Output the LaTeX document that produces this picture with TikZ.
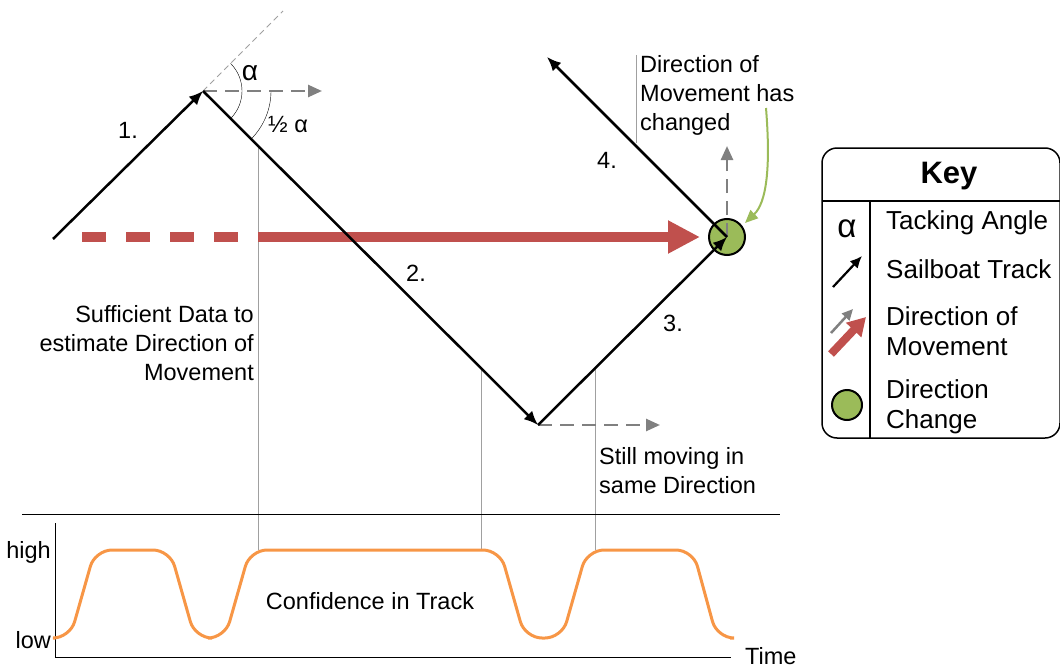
\documentclass[tikz,border=0pt]{standalone}
\usepackage{fontspec}
\setmainfont{Liberation Sans}
\usetikzlibrary{arrows.meta,positioning,calc}
\definecolor{moveRed}{HTML}{C0504D}
\definecolor{changeGreen}{HTML}{9BBB59}
\definecolor{confOrange}{HTML}{F79646}
\definecolor{moveGray}{HTML}{808080}
\definecolor{guideGray}{HTML}{A0A0A0}
\tikzset{
  txt/.style={font=\fontsize{23.5}{29}\selectfont, inner sep=0pt},
  keytxt/.style={font=\fontsize{26}{30}\selectfont, inner sep=0pt, anchor=west, align=left},
  track/.style={-{Latex[length=14pt,width=12pt]}, line width=2.5pt},
  movedash/.style={-{Triangle[length=14pt,width=12pt]}, moveGray, line width=2.5pt, dash pattern=on 14pt off 8pt},
  guide/.style={guideGray, line width=1pt},
  movebar/.style={moveRed, line width=10.5pt},
  changedot/.style={draw, circle, fill=changeGreen, line width=2pt, minimum size=36pt, inner sep=0pt},
}

\begin{document}
\begin{tikzpicture}[x=1pt, y=-1pt]
  \useasboundingbox (0,0) rectangle (1060,669);

  % track corners
  \coordinate (start) at (53,239);
  \coordinate (apex) at (203,91);
  \coordinate (turn) at (538,425);
  \coordinate (end4) at (547,57);
  \coordinate (wind) at (283,11);

  % where the track meets the guides
  \coordinate (g1) at (258,146);
  \coordinate (g2) at (481,369);
  \coordinate (g3) at (595,368);
  \coordinate (h1) at (258,550);
  \coordinate (h2) at (481,550);
  \coordinate (h3) at (595,550);

  \draw[guide] (g1) -- (h1);
  \draw[guide] (g2) -- (h2);
  \draw[guide] (g3) -- (h3);
  \draw[guide] (636,55) -- (636,143);

  % direction of movement
  \coordinate (dashA) at (82,237);
  \coordinate (dashB) at (240,237);
  \coordinate (barA) at (258,237);
  \coordinate (barB) at (700,237);
  \draw[movebar, dash pattern=on 24pt off 20pt] (dashA) -- (dashB);
  \draw[movebar, -{Triangle[length=32pt,width=31pt]}] (barA) -- (barB);

  \node[changedot] (chg) at (727,237) {};

  % tacking angle
  \draw[guideGray, line width=0.8pt, dash pattern=on 6pt off 4pt] (apex) -- (wind);
  \draw (apex) ++(45:39pt) arc[start angle=45, end angle=-45, radius=39pt];
  \draw (apex) ++(0:68pt) arc[start angle=0, end angle=-45, radius=68pt];
  \node[txt, font=\fontsize{28}{30}\selectfont] (alpha) at (250,73) {α};
  \node[txt] (half) at (288,125) {½ α};

  \coordinate (apexR) at (322,91);
  \coordinate (turnR) at (660,425);
  \coordinate (chgUp) at (727,146);
  \draw[movedash] (apex) -- (apexR);
  \draw[movedash] (turn) -- (turnR);
  \draw[movedash] (chg.center) -- (chgUp);

  % sailboat track
  \draw[track] (start) -- (apex);
  \draw[track] (apex) -- (turn);
  \draw[track] (turn) -- (chg.center);
  \draw[track] (chg.center) -- (end4);

  \node[txt] (n1) at (128,130) {1.};
  \node[txt] (n2) at (416,273) {2.};
  \node[txt] (n3) at (673,323) {3.};
  \node[txt] (n4) at (607,160) {4.};

  \node[txt, anchor=east, align=right] (suff) at (254,343) {Sufficient Data to\\estimate Direction of\\Movement};
  \node[txt, anchor=west, align=left] (changed) at (640,95) {Direction of\\Movement has\\changed};
  \node[txt, anchor=west, align=left] (still) at (599,471) {Still moving in\\same Direction};

  \coordinate (gStart) at (766,108);
  \draw[changeGreen, line width=2pt, -{Triangle[length=13pt,width=11pt]}]
    (gStart) .. controls (771,170) and (766,203) .. (745,223);

  % confidence plot
  \draw[line width=1pt] (22,514) -- (780,514);
  \draw[line width=1pt] (55,523) -- (55,657) -- (731,657);
  \node[txt, anchor=east] (high) at (51,552) {high};
  \node[txt, anchor=east] (low) at (51,640) {low};
  \node[txt, anchor=west] (time) at (745,656) {Time};
  \draw[confOrange, line width=3pt, rounded corners=17pt]
    (55,638) -- (70,638) -- (95,550) -- (170,550) -- (195,638) -- (225,638)
    -- (250,550) -- (500,550) -- (525,638) -- (562,638) -- (587,550)
    -- (693,550) -- (717,638) -- (730,638);
  \node[txt] (conf) at (370,601) {Confidence in Track};

  % key
  \node[draw, rounded corners=15pt, line width=1.5pt, minimum width=238pt,
        minimum height=290pt, inner sep=0pt] (keybox) at (941,293) {};
  \draw[line width=1.5pt] (822,201) -- (1060,201);
  \draw[line width=1.5pt] (870,201) -- (870,438);
  \node[font=\fontsize{31}{36}\selectfont\bfseries, inner sep=0pt] (keyhead) at (949,176) {Key};

  \node[keytxt] (kA) at (886,223) {Tacking Angle};
  \node[keytxt] (kB) at (886,269) {Sailboat Track};
  \node[keytxt] (kC) at (886,331) {Direction of\\Movement};
  \node[keytxt] (kD) at (886,407) {Direction\\Change};

  \node[font=\fontsize{33}{36}\selectfont, inner sep=0pt] (kAlpha) at (847,229) {α};
  \coordinate (kb1) at (833,287);
  \coordinate (kb2) at (862,256);
  \draw[line width=2.2pt, -{Latex[length=12pt,width=11pt]}] (kb1) -- (kb2);
  \coordinate (kg1) at (831,333);
  \coordinate (kg2) at (853,309);
  \draw[moveGray, line width=2.5pt, -{Triangle[length=11pt,width=10pt]}] (kg1) -- (kg2);
  \coordinate (kr1) at (831,354);
  \coordinate (kr2) at (866,317);
  \draw[moveRed, line width=8pt, -{Triangle[length=18pt,width=20pt]}] (kr1) -- (kr2);
  \node[changedot, minimum size=30pt] (kDot) at (847,405) {};
\end{tikzpicture}
\end{document}
